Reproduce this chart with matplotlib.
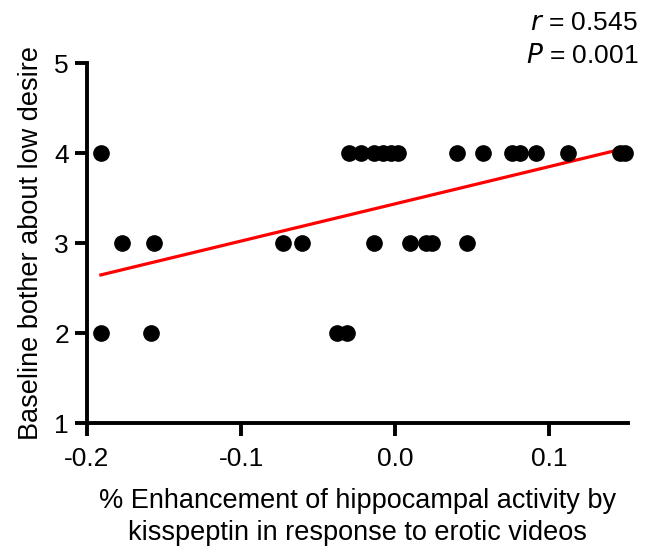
import numpy as np
import matplotlib
matplotlib.use("Agg")
import matplotlib.pyplot as plt

plt.rcParams['font.family'] = ['Liberation Sans', 'DejaVu Sans']

# % enhancement of hippocampal activity (x) vs baseline bother score (y)
enhancement = [-0.191, -0.0299, -0.0221, -0.0136, -0.0078, -0.0026, 0.0019,
               0.0401, 0.0569, 0.0758, 0.0812, 0.0916, 0.1119, 0.146, 0.149,
               -0.1773, -0.1563, -0.0727, -0.0604, -0.0136, 0.0097, 0.0201,
               0.0238, 0.0466,
               -0.191, -0.1582, -0.0379, -0.031]
bother = [4, 4, 4, 4, 4, 4, 4,
          4, 4, 4, 4, 4, 4, 4, 4,
          3, 3, 3, 3, 3, 3, 3,
          3, 3,
          2, 2, 2, 2]

r_text = "$\\it{r}$ = 0.545"
p_text = "$\\it{P}$ = 0.001"

x = np.array(enhancement)
y = np.array(bother)

fig = plt.figure(figsize=(6.46, 5.52), dpi=100)
ax = fig.add_axes([0.1347, 0.2332, 0.972 - 0.1347, 0.8853 - 0.2332])

ax.plot(x, y, 'o', color='black', ms=11, zorder=3, clip_on=False)

# linear regression line over the data range
slope, intercept = np.polyfit(x, y, 1)
xs = np.array([x.min(), x.max()])
ax.plot(xs, slope * xs + intercept, color='red', lw=2.3, zorder=2)

ax.set_xlim(-0.2, 0.151)
ax.set_ylim(1, 5)
ax.set_xticks([-0.2, -0.1, 0.0, 0.1])
ax.set_xticklabels(['-0.2', '-0.1', '0.0', '0.1'])
ax.set_yticks([1, 2, 3, 4, 5])

for s in ['top', 'right']:
    ax.spines[s].set_visible(False)
for s in ['left', 'bottom']:
    ax.spines[s].set_linewidth(2.8)

ax.tick_params(axis='both', width=2.8, length=9, labelsize=19, color='black')
ax.tick_params(axis='y', pad=4)
ax.tick_params(axis='x', pad=8)

ax.set_ylabel('Baseline bother about low desire', fontsize=19.5, labelpad=7)
ax.set_xlabel('% Enhancement of hippocampal activity by\nkisspeptin in response to erotic videos',
              fontsize=19.5, labelpad=12, linespacing=1.3)

fig.text(0.988, 0.945, r_text, ha='right', va='baseline', fontsize=19)
fig.text(0.988, 0.885, p_text, ha='right', va='baseline', fontsize=19)

fig.savefig('out.png', dpi=100)
